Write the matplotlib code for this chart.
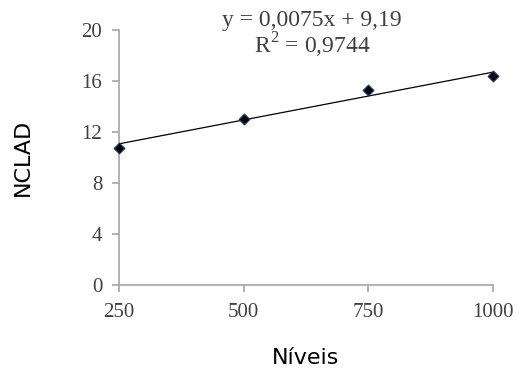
import numpy as np
import matplotlib.pyplot as plt

plt.rcParams['mathtext.fontset'] = 'custom'
plt.rcParams['mathtext.rm'] = 'Liberation Serif'

# Dados
niveis = [250, 500, 750, 1000]
nclad = [10.75, 13.0, 15.25, 16.35]

# Linha de tendência (equação mostrada no gráfico)
a, b = 0.0075, 9.19
eq_text = 'y = 0,0075x + 9,19\nR$^{\\mathrm{2}}$ = 0,9744'

fig = plt.figure(figsize=(5.19, 3.74), dpi=100)
ax = fig.add_axes([0.229, 0.238, 0.721, 0.682])

x_fit = np.array([niveis[0], niveis[-1]])
ax.plot(x_fit, a * x_fit + b, color='black', linewidth=0.9, zorder=2)
ax.scatter(niveis, nclad, marker='D', s=30, color='black',
           edgecolors='#1f3864', linewidths=0.8, zorder=3, clip_on=False)

ax.set_xlim(250, 1000)
ax.set_ylim(0, 20)
ax.set_xticks(niveis)
ax.set_yticks(np.arange(0, 21, 4))

for side in ['top', 'right']:
    ax.spines[side].set_visible(False)
for side in ['left', 'bottom']:
    ax.spines[side].set_color('#a6a6a6')
    ax.spines[side].set_linewidth(1.2)
ax.tick_params(colors='#a6a6a6', length=5, width=1.2, labelcolor='#404040')
ax.tick_params(axis='x', pad=8)
ax.tick_params(axis='y', pad=7)
for lab in ax.get_xticklabels() + ax.get_yticklabels():
    lab.set_family('Liberation Serif')
    lab.set_fontsize(15)

ax.set_xlabel('Níveis', fontsize=16, labelpad=19)
ax.set_ylabel('NCLAD', fontsize=16, labelpad=35)

fig.text(0.601, 0.906, eq_text, ha='center', va='center', family='Liberation Serif',
         fontsize=17, color='#404040', linespacing=1.0)

fig.savefig('out.png', dpi=100)
